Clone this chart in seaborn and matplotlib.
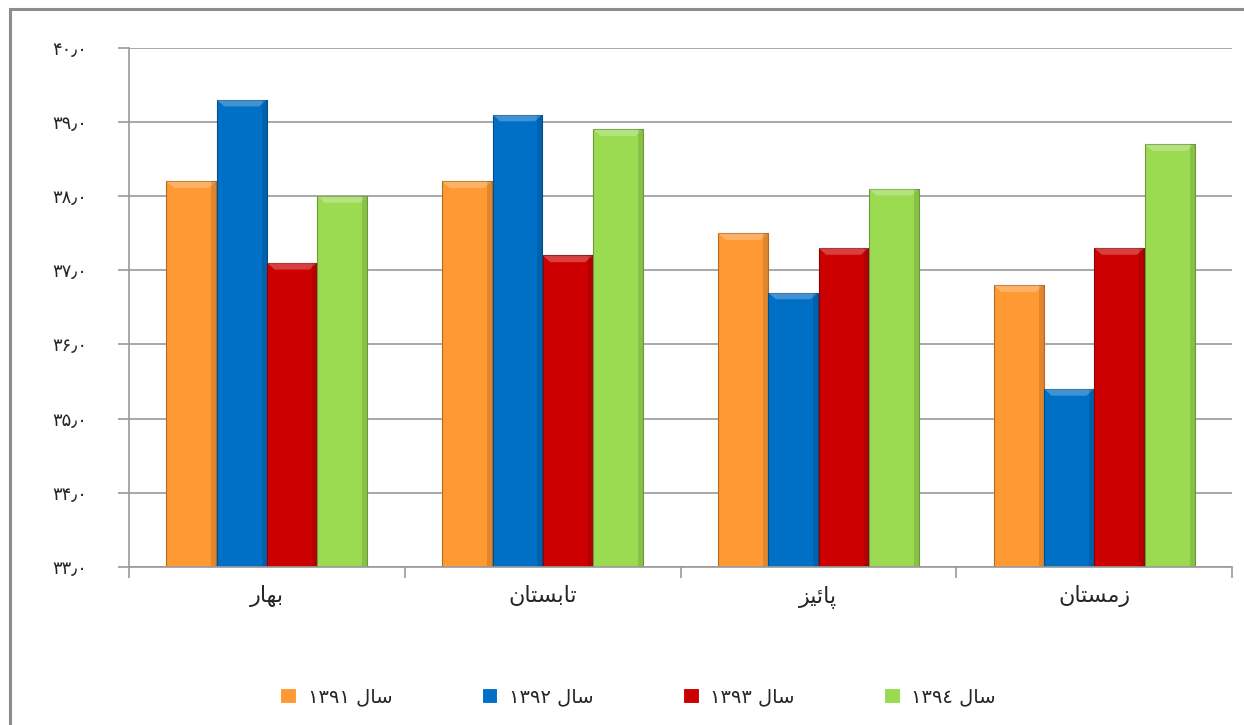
import matplotlib
matplotlib.use("Agg")
import matplotlib.pyplot as plt
from matplotlib.patches import Rectangle, Polygon
import seaborn as sns
import pandas as pd

# --- data ---
seasons = ["بهار", "تابستان", "پائیز", "زمستان"]
years = ["۱۳۹۱", "۱۳۹۲", "۱۳۹۳", "۱۳۹٤"]
y1391 = [38.2, 38.2, 37.5, 36.8]
y1392 = [39.3, 39.1, 36.7, 35.4]
y1393 = [37.1, 37.2, 37.3, 37.3]
y1394 = [38.0, 38.9, 38.1, 38.7]
colors = ["#FF9933", "#0070C6", "#CC0000", "#9BDB52"]
ytick_vals = [33, 34, 35, 36, 37, 38, 39, 40]

# --- simple arabic shaping (matplotlib has no complex text layout) ---
FORMS = {
    'ا': ('\uFE8D', '\uFE8E', None, None),
    'ب': ('\uFE8F', '\uFE90', '\uFE91', '\uFE92'),
    'پ': ('\uFB56', '\uFB57', '\uFB58', '\uFB59'),
    'ت': ('\uFE95', '\uFE96', '\uFE97', '\uFE98'),
    'ر': ('\uFEAD', '\uFEAE', None, None),
    'ز': ('\uFEAF', '\uFEB0', None, None),
    'س': ('\uFEB1', '\uFEB2', '\uFEB3', '\uFEB4'),
    'ل': ('\uFEDD', '\uFEDE', '\uFEDF', '\uFEE0'),
    'م': ('\uFEE1', '\uFEE2', '\uFEE3', '\uFEE4'),
    'ن': ('\uFEE5', '\uFEE6', '\uFEE7', '\uFEE8'),
    'ه': ('\uFEE9', '\uFEEA', '\uFEEB', '\uFEEC'),
    'ئ': ('\uFE89', '\uFE8A', '\uFE8B', '\uFE8C'),
    'ی': ('\uFBFC', '\uFBFD', '\uFBFE', '\uFBFF'),
}


def shape(word):
    out = []
    for i, ch in enumerate(word):
        iso, fin, ini, med = FORMS[ch]
        prev_joins = i > 0 and FORMS[word[i - 1]][2] is not None
        has_next = i < len(word) - 1
        if prev_joins and has_next and med:
            out.append(med)
        elif prev_joins:
            out.append(fin)
        elif has_next and ini:
            out.append(ini)
        else:
            out.append(iso)
    return "".join(reversed(out))


def fa_num(v):
    digits = "۰۱۲۳۴۵۶۷۸۹"
    s = f"{v:.1f}"
    return "".join(digits[int(c)] if c.isdigit() else "٫" for c in s)


season_labels = [shape(s) for s in seasons]
year_labels = [f"{y} {shape('سال')}" for y in years]

rows = []
for lab, vals in zip(year_labels, [y1391, y1392, y1393, y1394]):
    for s, v in zip(season_labels, vals):
        rows.append({"season": s, "year": lab, "value": v})
df = pd.DataFrame(rows)

sns.set_theme(style="white")
plt.rcParams["font.family"] = ["DejaVu Sans"]

fig = plt.figure(figsize=(12.44, 7.25), dpi=100)
ax = fig.add_axes([0.1037, 0.218, 0.8867, 0.716])

sns.barplot(data=df, x="season", y="value", hue="year", palette=colors,
            width=0.73, gap=0.01, ax=ax, saturation=1, legend=True,
            linewidth=0.8)

# bevel cap + shaded right side for a bit of the original 3D look
for patch in ax.patches:
    if patch.get_height() == 0:
        continue
    r, g, b, _ = patch.get_facecolor()
    patch.set_edgecolor((r * 0.7, g * 0.7, b * 0.7, 1))
    x0, w, top = patch.get_x(), patch.get_width(), patch.get_y() + patch.get_height()
    cap = Polygon([[x0, top], [x0 + w, top], [x0 + w * 0.85, top - 0.09],
                   [x0 + w * 0.15, top - 0.09]], closed=True,
                  facecolor="white", alpha=0.25, lw=0, zorder=patch.get_zorder() + 1)
    ax.add_patch(cap)
    ax.add_patch(Rectangle((x0 + w * 0.9, patch.get_y()), w * 0.1, patch.get_height(),
                           facecolor="black", alpha=0.12, lw=0,
                           zorder=patch.get_zorder() + 1))

ax.set_ylim(33, 40)
ax.set_xlim(-0.5, 3.5)
ax.set_yticks(ytick_vals)
ax.set_yticklabels([fa_num(v) for v in ytick_vals], fontsize=13)
ax.yaxis.grid(True, color="#9a9a9a", linewidth=1.2)
ax.set_axisbelow(True)
ax.set_xlabel("")
ax.set_ylabel("")
ax.tick_params(axis="x", labelsize=16, length=0, pad=13)
ax.set_xticks([-0.5, 0.5, 1.5, 2.5, 3.5], minor=True)
ax.tick_params(axis="x", which="minor", length=8, color="#9a9a9a", width=1.2,
               direction="out", bottom=True)
ax.tick_params(axis="y", length=8, color="#9a9a9a", width=1.2, left=True,
               direction="out", pad=22)
for side in ["top", "right"]:
    ax.spines[side].set_visible(False)
for side in ["left", "bottom"]:
    ax.spines[side].set_color("#9a9a9a")
    ax.spines[side].set_linewidth(1.2)

handles, labels = ax.get_legend_handles_labels()
ax.get_legend().remove()
fig.legend(handles, labels, loc="center", bbox_to_anchor=(0.513, 0.039),
           ncol=4, frameon=False, fontsize=14, handlelength=0.8,
           handleheight=0.8, columnspacing=4.6, handletextpad=0.6)

# outer chart frame (cropped in the reference)
fig.add_artist(Rectangle((0.008, -0.1), 1.2, 1.088, transform=fig.transFigure,
                         fill=False, edgecolor="#8c8c8c", linewidth=2.2))

fig.savefig("out.png", dpi=100)
